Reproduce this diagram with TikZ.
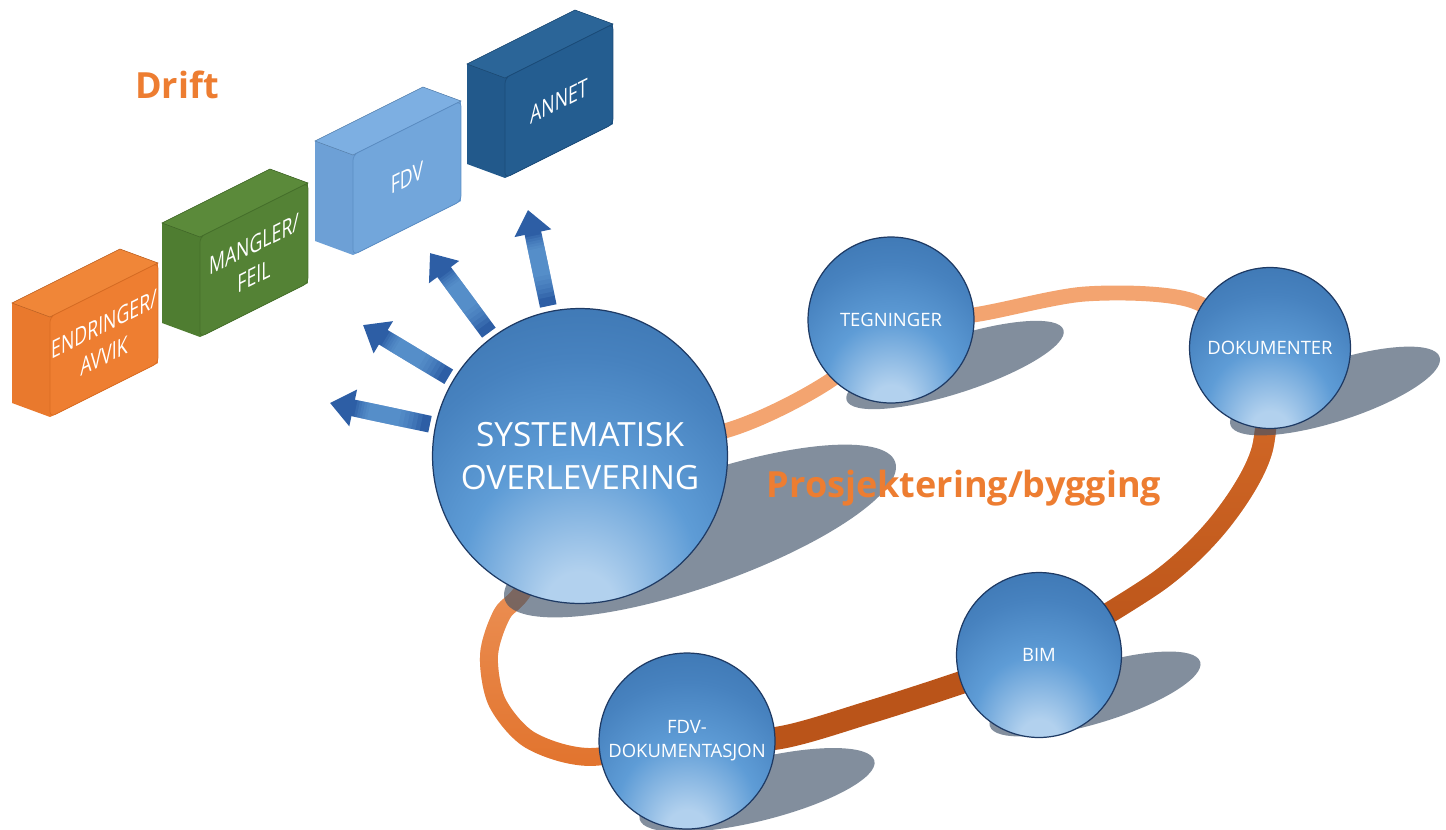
\documentclass[tikz,border=0pt]{standalone}
\usepackage{fontspec}
\setmainfont{Open Sans}
\newfontfamily\boxfont[FakeStretch=0.72]{Open Sans}
\usetikzlibrary{arrows.meta,calc,fadings}

\definecolor{ballLight}{HTML}{B2D1EE}
\definecolor{ballMid}{HTML}{5E9CD6}
\definecolor{ballCore}{HTML}{4782BF}
\definecolor{ballDark}{HTML}{336AA5}
\definecolor{ballEdge}{HTML}{1E3A64}
\definecolor{driftOrange}{HTML}{ED7D31}
\definecolor{ringLight}{HTML}{F3A470}
\definecolor{ringMid}{HTML}{E2742E}
\definecolor{ringDeep}{HTML}{D86D2A}
\definecolor{ringDark}{HTML}{BA5419}
\definecolor{shadowGrey}{HTML}{3F5269}
\definecolor{arrowDark}{HTML}{2D5EA5}
\definecolor{arrowLight}{HTML}{6CA7DE}
\definecolor{orFront}{HTML}{EE7E31}
\definecolor{orSide}{HTML}{E9792D}
\definecolor{orTop}{HTML}{F08638}
\definecolor{orEdge}{HTML}{D96C22}
\definecolor{grFront}{HTML}{548235}
\definecolor{grSide}{HTML}{4F7D31}
\definecolor{grTop}{HTML}{5B8A3A}
\definecolor{grEdge}{HTML}{46702B}
\definecolor{fdFront}{HTML}{72A6DB}
\definecolor{fdSide}{HTML}{6DA0D6}
\definecolor{fdTop}{HTML}{7DAFE2}
\definecolor{fdEdge}{HTML}{5B8DC4}
\definecolor{anFront}{HTML}{245D90}
\definecolor{anSide}{HTML}{22598B}
\definecolor{anTop}{HTML}{2B6598}
\definecolor{anEdge}{HTML}{1B4B78}

\pgfdeclareradialshading{ballshading}{\pgfpoint{0bp}{-28bp}}{color(0bp)=(ballLight); color(6bp)=(ballLight); color(20bp)=(ballMid); color(32bp)=(ballCore); color(50bp)=(ballDark); color(70bp)=(ballDark)}
\tikzfading[name=ringfade, top color=transparent!0, bottom color=transparent!100]

\pgfdeclarelayer{ringlayer}
\pgfdeclarelayer{shadowlayer}
\pgfsetlayers{ringlayer,shadowlayer,main}

\begin{document}
\begin{tikzpicture}[x=0.02cm, y=-0.02cm,
    ball/.style={circle, draw=ballEdge, line width=0.7pt, shade, shading=ballshading, text=white, inner sep=0pt, align=center, font=\fontsize{10.5}{13.6}\selectfont},
    shadowblob/.style={fill=shadowGrey, opacity=0.65},
    loopline/.style={line join=round},
    fatarrow/.style={draw=arrowDark, line width=9.6pt, shorten <=3pt, -{Triangle[width=20.5pt, length=13.5pt]}},
    arrowglow/.style={draw=arrowLight, line width=9.6pt, opacity=#1},
    boxface/.style={minimum width=2.16cm, minimum height=2cm, inner sep=0pt, outer sep=0pt, rounded corners=3pt, yslant=0.5, line width=0.4pt, text=white, align=center, font=\boxfont\fontsize{14}{18}\selectfont},
    phase/.style={text=driftOrange, font=\bfseries\fontsize{20.5}{24}\selectfont}]

    \useasboundingbox (0,0) rectangle (1446,829);

    % drift boxes
    \node[boxface, fill=orFront, draw=orEdge] (endr) at (104,340) {ENDRINGER/\\AVVIK};
    \node[boxface, fill=grFront, draw=grEdge] (mang) at (254,260) {MANGLER/\\FEIL};
    \node[boxface, fill=fdFront, draw=fdEdge] (fdvb) at (407,178) {FDV};
    \node[boxface, fill=anFront, draw=anEdge] (annet) at (559,101) {ANNET};
    \begin{pgfonlayer}{ringlayer}
    \foreach \b/\s/\t in {endr/orSide/orTop, mang/grSide/grTop, fdvb/fdSide/fdTop, annet/anSide/anTop} {
        \fill[\s] ($(\b.north west)+(-38,-14)$) -- ($(\b.north east)+(-38,-14)$) -- (\b.north east) -- (\b.south east) -- (\b.south west) -- ($(\b.south west)+(-38,-14)$) -- cycle;
        \filldraw[fill=\t, draw=\s!80!black, line width=0.3pt] (\b.north west) -- ($(\b.north west)+(-38,-14)$) -- ($(\b.north east)+(-38,-14)$) -- (\b.north east) -- cycle;
    }
    \end{pgfonlayer}

    % circles
    \node[ball, minimum size=5.9cm, font=\fontsize{19}{24}\selectfont] (sys) at (580,456) {SYSTEMATISK\\OVERLEVERING};
    \node[ball, minimum size=3.32cm] (teg) at (891,320) {TEGNINGER};
    \node[ball, minimum size=3.22cm] (dok) at (1270,348) {DOKUMENTER};
    \node[ball, minimum size=3.3cm] (bim) at (1039,655) {BIM};
    \node[ball, minimum size=3.52cm] (fdvd) at (687,741) {FDV-\\DOKUMENTASJON};

    % the loop
    \begin{pgfonlayer}{ringlayer}
    \draw[loopline, ringLight, line width=8.5pt] plot[smooth] coordinates {(sys.center) (728,430) (831,380) (teg.center)};
    \draw[loopline, ringLight, line width=8.5pt] plot[smooth] coordinates {(teg.center) (973,315) (1085,294) (1190,300) (dok.center)};
    \draw[loopline, ringDark, line width=12pt] plot[smooth] coordinates {(dok.center) (1262,450) (1222,520) (1160,580) (bim.center)};
    \draw[loopline, ringDeep, line width=12pt, path fading=ringfade] plot[smooth] coordinates {(dok.center) (1262,450) (1222,520) (1160,580) (bim.center)};
    \draw[loopline, ringDark, line width=13pt] plot[smooth] coordinates {(bim.center) (960,683) (870,712) (778,738) (fdvd.center)};
    \draw[loopline, ringMid, line width=10.2pt] plot[smooth] coordinates {(fdvd.center) (590,757) (530,740) (497,702) (489,655) (502,614) (528,582) (sys.center)};
    \draw[loopline, ringLight, line width=10.2pt, path fading=ringfade] plot[smooth] coordinates {(fdvd.center) (590,757) (530,740) (497,702) (489,655) (502,614) (528,582) (sys.center)};
    \end{pgfonlayer}

    % shadows
    \begin{pgfonlayer}{shadowlayer}
    \fill[shadowblob, rotate around={19.5:(700,531)}] (700,531) ellipse [x radius=207, y radius=55];
    \fill[shadowblob, rotate around={18:(955,365)}] (955,365) ellipse [x radius=114, y radius=28];
    \fill[shadowblob, rotate around={18:(1335,391)}] (1335,391) ellipse [x radius=110, y radius=30];
    \fill[shadowblob, rotate around={17:(1095,694)}] (1095,694) ellipse [x radius=110, y radius=29];
    \fill[shadowblob, rotate around={14:(757,790)}] (757,790) ellipse [x radius=121, y radius=31];
    \end{pgfonlayer}

    % arrows out of the big circle
    \coordinate (tip1) at (330,403);
    \coordinate (tip2) at (363,325);
    \coordinate (tip3) at (430,253);
    \coordinate (tip4) at (528,210);
    \foreach \t in {tip1,tip2,tip3,tip4} {
        \draw[fatarrow] (sys) -- (\t);
        \foreach \k in {0,...,5}
            \draw[arrowglow=0.17, shorten <={8pt+2.5pt*\k}, shorten >={15pt+1.5pt*\k}] (sys) -- (\t);
    }

    \node[phase] (drift) at (177,85) {Drift};
    \node[phase] (prosj) at (964,488) {Prosjektering/bygging};
\end{tikzpicture}
\end{document}
